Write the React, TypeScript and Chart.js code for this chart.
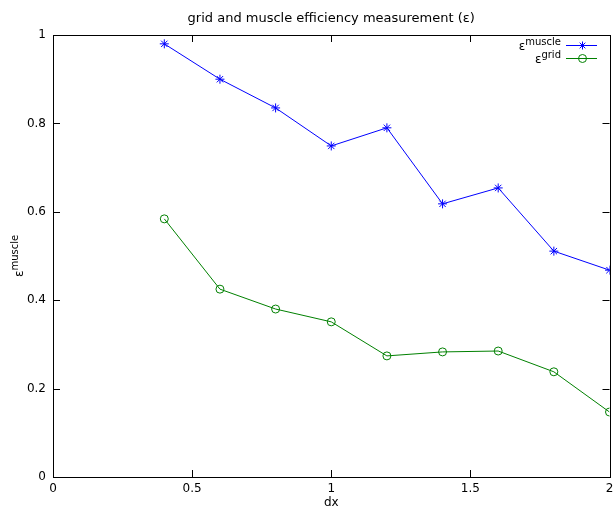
import React, { useEffect, useRef } from "react";
import { Chart, registerables } from "chart.js";
Chart.register(...registerables);

const dxValues = [0.4, 0.6, 0.8, 1.0, 1.2, 1.4, 1.6, 1.8, 2.0];
const muscleValues = [0.98, 0.9, 0.835, 0.749, 0.79, 0.618, 0.654, 0.511, 0.468];
const gridValues = [0.584, 0.425, 0.38, 0.351, 0.274, 0.283, 0.285, 0.238, 0.147];
const xTicks = [0, 0.5, 1, 1.5, 2];
const yTicks = [0, 0.2, 0.4, 0.6, 0.8, 1];
const titleText = "grid and muscle efficiency measurement (ε)";
const xTitle = "dx";
const seriesNames = [
  { base: "ε", sup: "muscle" },
  { base: "ε", sup: "grid" },
];

const FONT = "DejaVu Sans, sans-serif";

function drawSup(ctx: CanvasRenderingContext2D, base: string, sup: string, x: number, y: number, align: "right" | "center") {
  ctx.font = `12px ${FONT}`;
  const wb = ctx.measureText(base).width;
  ctx.font = `10px ${FONT}`;
  const ws = ctx.measureText(sup).width;
  const total = wb + ws;
  const start = align === "right" ? x - total : x - total / 2;
  ctx.textAlign = "left";
  ctx.textBaseline = "middle";
  ctx.font = `12px ${FONT}`;
  ctx.fillText(base, start, y + 2);
  ctx.font = `10px ${FONT}`;
  ctx.fillText(sup, start + wb, y - 3);
}

const overlay = {
  id: "overlay",
  afterDraw(chart: any) {
    const ctx = chart.ctx as CanvasRenderingContext2D;
    const a = chart.chartArea;
    const xs = chart.scales.x;
    const ys = chart.scales.y;
    ctx.save();
    ctx.strokeStyle = "#000";
    ctx.lineWidth = 1;
    ctx.strokeRect(Math.round(a.left) + 0.5, Math.round(a.top) + 0.5, Math.round(a.right - a.left), Math.round(a.bottom - a.top));
    const tl = 7;
    ctx.beginPath();
    for (const v of xTicks) {
      const px = Math.round(xs.getPixelForValue(v)) + 0.5;
      ctx.moveTo(px, a.bottom);
      ctx.lineTo(px, a.bottom - tl);
      ctx.moveTo(px, a.top);
      ctx.lineTo(px, a.top + tl);
    }
    for (const v of yTicks) {
      const py = Math.round(ys.getPixelForValue(v)) + 0.5;
      ctx.moveTo(a.left, py);
      ctx.lineTo(a.left + tl, py);
      ctx.moveTo(a.right, py);
      ctx.lineTo(a.right - tl, py);
    }
    ctx.stroke();

    ctx.fillStyle = "#000";
    ctx.textAlign = "center";
    ctx.textBaseline = "middle";
    ctx.font = `13px ${FONT}`;
    ctx.fillText(titleText, (a.left + a.right) / 2, 19);
    ctx.font = `12px ${FONT}`;
    ctx.fillText(xTitle, (a.left + a.right) / 2, 503);

    ctx.save();
    ctx.translate(18, (a.top + a.bottom) / 2);
    ctx.rotate(-Math.PI / 2);
    drawSup(ctx, seriesNames[0].base, seriesNames[0].sup, 0, 0, "center");
    ctx.restore();

    const colors = ["#0000ff", "#008000"];
    const rows = [45, 58];
    rows.forEach((ry, i) => {
      ctx.fillStyle = "#000";
      drawSup(ctx, seriesNames[i].base, seriesNames[i].sup, 561, ry, "right");
      ctx.strokeStyle = colors[i];
      ctx.lineWidth = 1;
      ctx.beginPath();
      ctx.moveTo(566, ry + 0.5);
      ctx.lineTo(597, ry + 0.5);
      ctx.stroke();
      const cx = 582.5;
      ctx.beginPath();
      if (i === 0) {
        const r = 4;
        for (let k = 0; k < 4; k++) {
          const ang = (k * Math.PI) / 4;
          ctx.moveTo(cx - r * Math.cos(ang), ry + 0.5 - r * Math.sin(ang));
          ctx.lineTo(cx + r * Math.cos(ang), ry + 0.5 + r * Math.sin(ang));
        }
      } else {
        ctx.arc(cx, ry + 0.5, 4, 0, Math.PI * 2);
      }
      ctx.stroke();
    });
    ctx.restore();
  },
};

export default function App() {
  const ref = useRef<HTMLCanvasElement | null>(null);
  useEffect(() => {
    if (!ref.current) return;
    const chart = new Chart(ref.current, {
      type: "line",
      data: {
        datasets: [
          {
            label: "muscle",
            data: dxValues.map((x, i) => ({ x, y: muscleValues[i] })),
            borderColor: "#0000ff",
            backgroundColor: "#0000ff",
            borderWidth: 1,
            pointStyle: "star",
            pointRadius: 4.5,
            pointBorderWidth: 1,
            tension: 0,
          },
          {
            label: "grid",
            data: dxValues.map((x, i) => ({ x, y: gridValues[i] })),
            borderColor: "#008000",
            backgroundColor: "rgba(0,0,0,0)",
            borderWidth: 1,
            pointStyle: "circle",
            pointRadius: 4,
            pointBorderWidth: 1,
            tension: 0,
          },
        ],
      },
      options: {
        animation: false,
        responsive: false,
        layout: { padding: { left: 0, right: 4, top: 35, bottom: 0 } },
        plugins: { legend: { display: false }, title: { display: false }, tooltip: { enabled: false } },
        scales: {
          x: {
            type: "linear",
            min: 0,
            max: 2,
            afterBuildTicks: (s: any) => { s.ticks = xTicks.map((v) => ({ value: v })); },
            afterFit: (s: any) => { s.height = 33; s.paddingLeft = 0; s.paddingRight = 0; },
            grid: { display: false, drawTicks: false },
            border: { display: false },
            ticks: { color: "#000", padding: 5, font: { family: FONT, size: 12 }, maxRotation: 0, callback: (v: any) => String(Number(v)) },
          },
          y: {
            type: "linear",
            min: 0,
            max: 1,
            afterBuildTicks: (s: any) => { s.ticks = yTicks.map((v) => ({ value: v })); },
            afterFit: (s: any) => { s.width = 53; s.paddingTop = 0; s.paddingBottom = 0; },
            grid: { display: false, drawTicks: false },
            border: { display: false },
            ticks: { color: "#000", padding: 7, font: { family: FONT, size: 12 }, callback: (v: any) => String(Number(v)) },
          },
        },
      },
      plugins: [overlay],
    });
    return () => chart.destroy();
  }, []);
  return (
    <canvas
      ref={ref}
      width={615}
      height={510}
      style={{ position: "absolute", left: 0, top: 0, width: 615, height: 510, background: "#fff" }}
    />
  );
}
